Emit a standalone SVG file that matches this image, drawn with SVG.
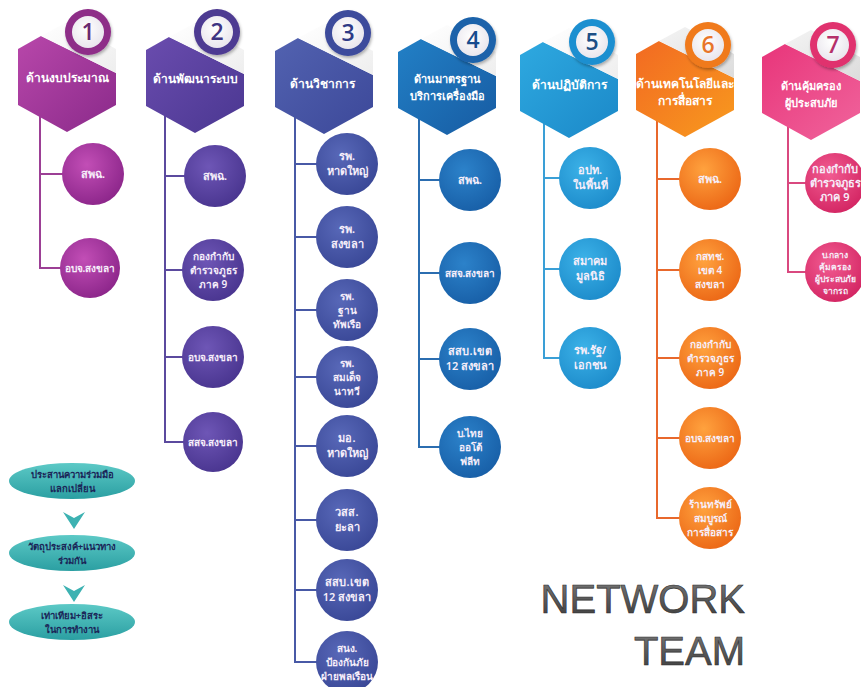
<svg xmlns="http://www.w3.org/2000/svg" width="861" height="687" viewBox="0 0 861 687">
<style>
text{font-family:"Noto Sans","DejaVu Sans",sans-serif;text-anchor:middle}
.hd{font-size:12px;fill:#ffffff;font-weight:600}
.hs{font-size:11px}
.nt{font-size:11px;fill:#f6eefa;font-weight:600}
.sm{font-size:10px}
.xs{font-size:8.5px}
.num{font-family:"Open Sans","Liberation Sans",sans-serif;font-size:23px;font-weight:600}
.ln{fill:none;stroke-width:2}
.el{font-size:9.5px;fill:#1b2658;font-weight:700}
.nw{font-family:"Liberation Sans",Arial,sans-serif;font-size:40px;text-anchor:end;fill:url(#gr);stroke:#2c2c2c;stroke-width:0.6}
</style>
<defs>
<linearGradient id="h1" x1="0" y1="0" x2="1" y2="1"><stop offset="0" stop-color="#b847aa"/><stop offset="1" stop-color="#8a2a8a"/></linearGradient>
<linearGradient id="h2" x1="0" y1="0" x2="1" y2="1"><stop offset="0" stop-color="#6a4cae"/><stop offset="1" stop-color="#4a3791"/></linearGradient>
<linearGradient id="h3" x1="0" y1="0" x2="1" y2="1"><stop offset="0" stop-color="#5262b0"/><stop offset="1" stop-color="#3c4899"/></linearGradient>
<linearGradient id="h4" x1="0" y1="0" x2="1" y2="1"><stop offset="0" stop-color="#2280c6"/><stop offset="1" stop-color="#175ba2"/></linearGradient>
<linearGradient id="h5" x1="0" y1="0" x2="1" y2="1"><stop offset="0" stop-color="#2ea9e0"/><stop offset="1" stop-color="#1b88c8"/></linearGradient>
<linearGradient id="h6" x1="0" y1="0" x2="1" y2="1"><stop offset="0" stop-color="#f26a22"/><stop offset="1" stop-color="#f89a1e"/></linearGradient>
<linearGradient id="h7" x1="0" y1="0" x2="1" y2="1"><stop offset="0" stop-color="#e8357a"/><stop offset="1" stop-color="#f0649c"/></linearGradient>
<radialGradient id="n1" cx="0.4" cy="0.35" r="0.75"><stop offset="0" stop-color="#c24eb6"/><stop offset="1" stop-color="#872286"/></radialGradient>
<radialGradient id="n2" cx="0.4" cy="0.35" r="0.75"><stop offset="0" stop-color="#6e56b6"/><stop offset="1" stop-color="#46328c"/></radialGradient>
<radialGradient id="n3" cx="0.4" cy="0.35" r="0.75"><stop offset="0" stop-color="#5868b8"/><stop offset="1" stop-color="#374594"/></radialGradient>
<radialGradient id="n4" cx="0.4" cy="0.35" r="0.75"><stop offset="0" stop-color="#2c82ca"/><stop offset="1" stop-color="#165ca4"/></radialGradient>
<radialGradient id="n5" cx="0.4" cy="0.35" r="0.75"><stop offset="0" stop-color="#3cb2e8"/><stop offset="1" stop-color="#1a88c8"/></radialGradient>
<radialGradient id="n6" cx="0.4" cy="0.35" r="0.75"><stop offset="0" stop-color="#ffa23e"/><stop offset="1" stop-color="#ea6212"/></radialGradient>
<radialGradient id="n7" cx="0.4" cy="0.35" r="0.75"><stop offset="0" stop-color="#f25c92"/><stop offset="1" stop-color="#d0205e"/></radialGradient>
<linearGradient id="fold" x1="0" y1="0" x2="1" y2="1"><stop offset="0" stop-color="#ffffff"/><stop offset="1" stop-color="#eeeeee"/></linearGradient>
<linearGradient id="fold2" x1="0" y1="0" x2="1" y2="1"><stop offset="0" stop-color="#f4f4f4"/><stop offset="1" stop-color="#dcdcdc"/></linearGradient>
<radialGradient id="bin" cx="0.45" cy="0.4" r="0.7"><stop offset="0" stop-color="#ffffff"/><stop offset="1" stop-color="#e6e2ea"/></radialGradient>
<linearGradient id="teal" x1="0" y1="0" x2="0" y2="1"><stop offset="0" stop-color="#5cc9c6"/><stop offset="1" stop-color="#2b9fa2"/></linearGradient>
<linearGradient id="gr" x1="0" y1="0" x2="0" y2="1"><stop offset="0" stop-color="#7a7a7a"/><stop offset="1" stop-color="#3a3a3a"/></linearGradient>
<filter id="sh" x="-30%" y="-30%" width="160%" height="160%"><feDropShadow dx="1" dy="2" stdDeviation="1.5" flood-color="#000" flood-opacity="0.3"/></filter>
<polygon id="hx" points="-49,-28 -26,-41 49,-4 49,28 0,55 -49,28"/>
<polygon id="fd" points="-26,-41 0,-55 49,-28 49,-4" fill="url(#fold)"/>
<polygon id="fd2" points="-26,-41 0,-55 49,-28 49,-4" fill="url(#fold2)"/>
</defs>
<rect width="861" height="687" fill="#ffffff"/>

<g id="connectors">
<path class="ln" stroke="#9c3f95" d="M40,110 V268 H62 M40,174 H64"/>
<path class="ln" stroke="#5b4a9e" d="M165,110 V442 H185 M165,176 H187 M165,270 H185 M165,357 H185"/>
<path class="ln" stroke="#4859a6" d="M295,110 V662 H319 M295,164 H319 M295,237 H319 M295,310 H319 M295,377 H319 M295,446 H319 M295,520 H319 M295,590 H319"/>
<path class="ln" stroke="#2b6db0" d="M419,110 V447 H441 M419,180 H441 M419,273 H441 M419,359 H441"/>
<path class="ln" stroke="#3a9fd6" d="M544,115 V358 H561 M544,178 H561 M544,269 H561"/>
<path class="ln" stroke="#e8682c" d="M657,115 V518 H681 M657,179 H681 M657,270 H681 M657,358 H681 M657,438 H681"/>
<path class="ln" stroke="#d9487f" d="M788,115 V272 H807 M788,183 H807"/>
</g>

<g id="h1n">
<g transform="translate(67,77)"><use href="#hx" fill="url(#h1)"/><use href="#fd"/></g>
<g filter="url(#sh)"><circle cx="88" cy="32" r="23" fill="#8e2d88"/></g><circle cx="88" cy="32" r="16" fill="url(#bin)"/>
<text class="num" x="88" y="40" fill="#6a2a70">1</text>
<text class="hd" x="67" y="82">ด้านงบประมาณ</text>
</g>
<g id="h2n">
<g transform="translate(195,78)"><use href="#hx" fill="url(#h2)"/><use href="#fd"/></g>
<g filter="url(#sh)"><circle cx="217" cy="32" r="23" fill="#4e3a92"/></g><circle cx="217" cy="32" r="16" fill="url(#bin)"/>
<text class="num" x="217" y="40" fill="#3e3482">2</text>
<text class="hd" x="195" y="83">ด้านพัฒนาระบบ</text>
</g>
<g id="h3n">
<g transform="translate(324,79)"><use href="#hx" fill="url(#h3)"/><use href="#fd"/></g>
<g filter="url(#sh)"><circle cx="348" cy="33" r="23" fill="#3e4b9c"/></g><circle cx="348" cy="33" r="16" fill="url(#bin)"/>
<text class="num" x="348" y="41" fill="#2e3a86">3</text>
<text class="hd" x="322" y="88">ด้านวิชาการ</text>
</g>
<g id="h4n">
<g transform="translate(447,80)"><use href="#hx" fill="url(#h4)"/><use href="#fd"/></g>
<g filter="url(#sh)"><circle cx="473" cy="40" r="23" fill="#1a62aa"/></g><circle cx="473" cy="40" r="16" fill="url(#bin)"/>
<text class="num" x="473" y="48" fill="#184c8e">4</text>
<text class="hd hs" x="447" y="83">ด้านมาตรฐาน</text>
<text class="hd hs" x="447" y="100">บริการเครื่องมือ</text>
</g>
<g id="h5n">
<g transform="translate(569,83)"><use href="#hx" fill="url(#h5)"/><use href="#fd"/></g>
<g filter="url(#sh)"><circle cx="592" cy="42" r="23" fill="#1f8fd0"/></g><circle cx="592" cy="42" r="16" fill="url(#bin)"/>
<text class="num" x="592" y="50" fill="#1d4f86">5</text>
<text class="hd" x="569" y="89">ด้านปฏิบัติการ</text>
</g>
<g id="h6n">
<g transform="translate(685,82)"><use href="#hx" fill="url(#h6)"/><use href="#fd2"/></g>
<g filter="url(#sh)"><circle cx="708" cy="45" r="23" fill="#f07a1c"/></g><circle cx="708" cy="45" r="16" fill="url(#bin)"/>
<text class="num" x="708" y="53" fill="#e8752a">6</text>
<text class="hd" x="685" y="88" font-size="10.5">ด้านเทคโนโลยีและ</text>
<text class="hd" x="685" y="105" font-size="10.5">การสื่อสาร</text>
</g>
<g id="h7n">
<g transform="translate(811,85)"><use href="#hx" fill="url(#h7)"/><use href="#fd2"/></g>
<g filter="url(#sh)"><circle cx="833" cy="45" r="23" fill="#e0306e"/></g><circle cx="833" cy="45" r="16" fill="url(#bin)"/>
<text class="num" x="833" y="53" fill="#b5306a">7</text>
<text class="hd hs" x="811" y="90">ด้านคุ้มครอง</text>
<text class="hd hs" x="811" y="107">ผู้ประสบภัย</text>
</g>

<g id="c1a"><circle cx="93" cy="174" r="31" fill="url(#n1)"/><text class="nt" x="93" y="178">สพฉ.</text></g>
<g id="c1b"><circle cx="90" cy="268" r="30" fill="url(#n1)"/><text class="nt sm" x="90" y="272">อบจ.สงขลา</text></g>

<g id="c2a"><circle cx="215" cy="176" r="31" fill="url(#n2)"/><text class="nt" x="215" y="180">สพฉ.</text></g>
<g id="c2b"><circle cx="213" cy="270" r="31" fill="url(#n2)"/><text class="nt sm" x="213" y="260">กองกำกับ</text><text class="nt sm" x="213" y="274">ตำรวจภูธร</text><text class="nt sm" x="213" y="288">ภาค 9</text></g>
<g id="c2c"><circle cx="213" cy="357" r="31" fill="url(#n2)"/><text class="nt sm" x="213" y="361">อบจ.สงขลา</text></g>
<g id="c2d"><circle cx="213" cy="442" r="30" fill="url(#n2)"/><text class="nt sm" x="213" y="446">สสจ.สงขลา</text></g>

<g id="c3a"><circle cx="347" cy="164" r="31" fill="url(#n3)"/><text class="nt" x="347" y="160">รพ.</text><text class="nt" x="347" y="175">หาดใหญ่</text></g>
<g id="c3b"><circle cx="347" cy="237" r="31" fill="url(#n3)"/><text class="nt" x="347" y="233">รพ.</text><text class="nt" x="347" y="248">สงขลา</text></g>
<g id="c3c"><circle cx="347" cy="310" r="31" fill="url(#n3)"/><text class="nt sm" x="347" y="300">รพ.</text><text class="nt sm" x="347" y="314">ฐาน</text><text class="nt sm" x="347" y="328">ทัพเรือ</text></g>
<g id="c3d"><circle cx="347" cy="377" r="31" fill="url(#n3)"/><text class="nt sm" x="347" y="367">รพ.</text><text class="nt sm" x="347" y="381">สมเด็จ</text><text class="nt sm" x="347" y="395">นาทวี</text></g>
<g id="c3e"><circle cx="347" cy="446" r="31" fill="url(#n3)"/><text class="nt" x="347" y="442">มอ.</text><text class="nt" x="347" y="457">หาดใหญ่</text></g>
<g id="c3f"><circle cx="347" cy="520" r="31" fill="url(#n3)"/><text class="nt" x="347" y="516">วสส.</text><text class="nt" x="347" y="531">ยะลา</text></g>
<g id="c3g"><circle cx="347" cy="590" r="31" fill="url(#n3)"/><text class="nt" x="347" y="586">สสบ.เขต</text><text class="nt" x="347" y="601">12 สงขลา</text></g>
<g id="c3h"><circle cx="347" cy="662" r="31" fill="url(#n3)"/><text class="nt sm" x="347" y="652">สนง.</text><text class="nt sm" x="347" y="666">ป้องกันภัย</text><text class="nt sm" x="347" y="680">ฝ่ายพลเรือน</text></g>

<g id="c4a"><circle cx="470" cy="180" r="31" fill="url(#n4)"/><text class="nt" x="470" y="184">สพฉ.</text></g>
<g id="c4b"><circle cx="470" cy="273" r="31" fill="url(#n4)"/><text class="nt sm" x="470" y="277">สสจ.สงขลา</text></g>
<g id="c4c"><circle cx="470" cy="359" r="31" fill="url(#n4)"/><text class="nt" x="470" y="355">สสบ.เขต</text><text class="nt" x="470" y="370">12 สงขลา</text></g>
<g id="c4d"><circle cx="470" cy="447" r="31" fill="url(#n4)"/><text class="nt sm" x="470" y="437">บ.ไทย</text><text class="nt sm" x="470" y="451">ออโต้</text><text class="nt sm" x="470" y="465">ฟลีท</text></g>

<g id="c5a"><circle cx="590" cy="178" r="31" fill="url(#n5)"/><text class="nt" x="590" y="174">อปท.</text><text class="nt" x="590" y="189">ในพื้นที่</text></g>
<g id="c5b"><circle cx="590" cy="269" r="31" fill="url(#n5)"/><text class="nt" x="590" y="265">สมาคม</text><text class="nt" x="590" y="280">มูลนิธิ</text></g>
<g id="c5c"><circle cx="590" cy="358" r="31" fill="url(#n5)"/><text class="nt" x="590" y="354">รพ.รัฐ/</text><text class="nt" x="590" y="369">เอกชน</text></g>

<g id="c6a"><circle cx="710" cy="179" r="31" fill="url(#n6)"/><text class="nt" x="710" y="183">สพฉ.</text></g>
<g id="c6b"><circle cx="710" cy="270" r="31" fill="url(#n6)"/><text class="nt sm" x="710" y="260">กสทช.</text><text class="nt sm" x="710" y="274">เขต 4</text><text class="nt sm" x="710" y="288">สงขลา</text></g>
<g id="c6c"><circle cx="710" cy="358" r="31" fill="url(#n6)"/><text class="nt sm" x="710" y="348">กองกำกับ</text><text class="nt sm" x="710" y="362">ตำรวจภูธร</text><text class="nt sm" x="710" y="376">ภาค 9</text></g>
<g id="c6d"><circle cx="710" cy="438" r="31" fill="url(#n6)"/><text class="nt sm" x="710" y="442">อบจ.สงขลา</text></g>
<g id="c6e"><circle cx="710" cy="518" r="31" fill="url(#n6)"/><text class="nt sm" x="710" y="508">ร้านทรัพย์</text><text class="nt sm" x="710" y="522">สมบูรณ์</text><text class="nt sm" x="710" y="536">การสื่อสาร</text></g>

<g id="c7a"><circle cx="835" cy="183" r="30" fill="url(#n7)"/><text class="nt" x="835" y="173" font-size="9.5">กองกำกับ</text><text class="nt" x="835" y="187" font-size="9.5">ตำรวจภูธร</text><text class="nt" x="835" y="201" font-size="9.5">ภาค 9</text></g>
<g id="c7b"><circle cx="835" cy="272" r="30" fill="url(#n7)"/><text class="nt xs" x="835" y="258">บ.กลาง</text><text class="nt xs" x="835" y="270">คุ้มครอง</text><text class="nt xs" x="835" y="282">ผู้ประสบภัย</text><text class="nt xs" x="835" y="294">จากรถ</text></g>

<g id="flow">
<g id="e1"><ellipse cx="72" cy="481" rx="63" ry="18" fill="url(#teal)"/><text class="el" x="72" y="478">ประสานความร่วมมือ</text><text class="el" x="72" y="492">แลกเปลี่ยน</text></g>
<polygon points="63,512 74,518 85,512 74,529" fill="#3db2b2"/>
<g id="e2"><ellipse cx="72" cy="553" rx="63" ry="18" fill="url(#teal)"/><text class="el" x="72" y="550">วัตถุประสงค์+แนวทาง</text><text class="el" x="72" y="564">ร่วมกัน</text></g>
<polygon points="63,585 74,591 85,585 74,602" fill="#3db2b2"/>
<g id="e3"><ellipse cx="72" cy="622" rx="63" ry="18" fill="url(#teal)"/><text class="el" x="72" y="619">เท่าเทียม+อิสระ</text><text class="el" x="72" y="633">ในการทำงาน</text></g>
</g>

<g id="title">
<text class="nw" x="745" y="613">NETWORK</text>
<text class="nw" x="745" y="665">TEAM</text>
</g>
</svg>
